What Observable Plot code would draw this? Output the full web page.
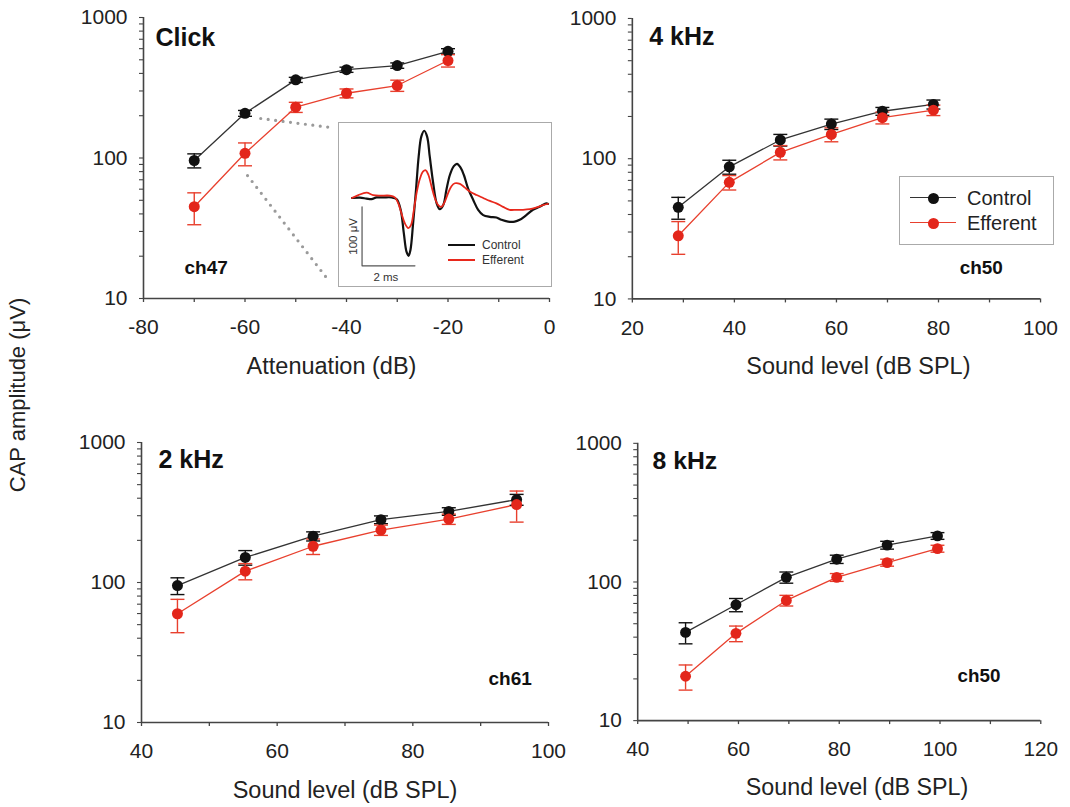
<!DOCTYPE html>
<html><head><meta charset="utf-8">
<script src="https://cdn.jsdelivr.net/npm/d3@7"></script>
<script src="https://cdn.jsdelivr.net/npm/@observablehq/plot@0.6"></script>
<style>
body{margin:0;background:#fff;font-family:"Liberation Sans",Arial,sans-serif;}
#fig{position:relative;width:1070px;height:807px;overflow:hidden;background:#fff;}
.abs{position:absolute;}
</style></head><body><div id="fig"></div>
<script>
// ---------- DATA ----------
// Click (attenuation, dB)
const clickAtten = [-70, -60, -50, -40, -30, -20];
const clickControl = [96, 208, 360, 425, 455, 575];
const clickControlErr = [11, 10, 15, 18, 20, 25];
const clickEfferent = [45, 108, 230, 289, 328, 494];
const clickEfferentErr = [11.5, 20, 19, 21, 30, 50];

// 4 kHz (dB SPL)
const level4k = [29, 39, 49, 59, 69, 79];
const control4k = [45, 87.5, 136, 176.5, 218, 244];
const control4kErr = [8, 10, 13, 15, 14, 18];
const efferent4k = [28.2, 67.8, 111, 149, 196, 222];
const efferent4kErr = [7.4, 8, 13, 17, 19, 19];

// 2 kHz (dB SPL)
const level2k = [45.3, 55.3, 65.3, 75.3, 85.3, 95.3];
const control2k = [95, 151, 214, 281, 322, 391];
const control2kErr = [13, 18, 16, 18, 20, 35];
const efferent2k = [59.8, 120.5, 181.5, 237, 284, 360];
const efferent2kErr = [16, 16, 23, 20, 24, 90];

// 8 kHz (dB SPL)
const level8k = [49.5, 59.5, 69.5, 79.5, 89.5, 99.5];
const control8k = [43.3, 68.5, 108, 146, 184.5, 215];
const control8kErr = [7.5, 7.5, 10, 10, 12, 12];
const efferent8k = [20.9, 42.6, 73.6, 108, 138, 174];
const efferent8kErr = [4.3, 5.5, 6.5, 7, 8, 10];

// Inset: CAP waveforms (time ms, amplitude µV)
const waveControlT = [0,0.30,0.55,0.74,0.93,1.18,1.50,1.69,1.84,1.96,2.06,2.14,2.21,2.31,2.42,2.52,2.62,2.73,2.84,2.94,3.07,3.20,3.32,3.45,3.57,3.70,3.85,3.97,4.10,4.23,4.39,4.58,4.77,4.96,5.21,5.46,5.65,5.90,6.15,6.34,6.59,6.84,7.09,7.35,7.41];
const waveControlV = [0,0.6,-1,-2,1,1,1,-2,-20,-60,-91,-98,-88,-43,14,70,104,114,104,70,25,-9,-19,-12,14,39,54,58,52,39,16,-3,-20,-29,-32,-33,-37,-40,-40,-37,-29,-20,-15,-9,-10];
const waveEfferentT = [0,0.24,0.55,0.80,1.06,1.43,1.62,1.75,1.87,2.00,2.13,2.23,2.34,2.44,2.57,2.69,2.79,2.89,3.01,3.13,3.26,3.38,3.51,3.63,3.76,3.89,4.08,4.26,4.45,4.71,4.96,5.21,5.46,5.71,5.96,6.21,6.46,6.72,6.97,7.22,7.41];
const waveEfferentV = [0,5,9,5,4,4,1,-9,-26,-43,-51,-46,-20,8,33,45,47,39,19,0,-12,-15,-6,8,20,25,24,18,11,5,0,-5,-9,-15,-20,-20,-20,-19,-16,-12,-10];
const scaleBarT0 = 0.38, scaleBarV0 = -115, scaleBarMs = 2, scaleBarUV = 100;

// Dotted zoom connectors (panel 1 data units)
const zoomFromX = [-56.9, -59.5], zoomFromY = [191, 75];
const zoomToX = [-43.2, -43.5], zoomToY = [165, 13.4];

const seriesNames = ["Control", "Efferent"];
const xLabels = ["Attenuation (dB)", "Sound level (dB SPL)", "Sound level (dB SPL)", "Sound level (dB SPL)"];
const titles = ["Click", "4 kHz", "2 kHz", "8 kHz"];
const channels = ["ch47", "ch50", "ch61", "ch50"];
const yLabel = "CAP amplitude (\u03BCV)";

// ---------- STYLE ----------
const FONT = '"Liberation Sans", Arial, sans-serif';
const AXIS = "#444";
const BLACK = "#111", BLACK_LINE = "#333";
const RED = "#e3261b", RED_LINE = "#e8402e";
const fig = document.getElementById("fig");

function place(el, left, top) {
  const w = document.createElement("div");
  w.className = "abs"; w.style.left = left + "px"; w.style.top = top + "px";
  w.appendChild(el); fig.appendChild(w); return w;
}

const capSymbol = { draw(ctx) { ctx.moveTo(-7, 0); ctx.lineTo(7, 0); } };

function panel(cfg) {
  const rows = (ys, es) => cfg.x.map((x, i) => ({ x, y: ys[i], lo: ys[i] - es[i], hi: ys[i] + es[i] }));
  const ctrl = rows(cfg.control, cfg.controlErr);
  const eff = rows(cfg.efferent, cfg.efferentErr);
  const ml = 83, mt = 17, mr = 30, mb = 90;
  const xd = cfg.xDomain;
  const minorX = d3.range(xd[0], xd[1] + 0.001, 10);
  const majorX = d3.range(xd[0], xd[1] + 0.001, 20);
  const minorY = [];
  for (const d of [10, 100]) for (let k = 1; k < 10; k++) minorY.push(d * k);
  minorY.push(1000);
  const errMarks = (data, col) => [
    Plot.ruleX(data, { x: "x", y1: "lo", y2: "hi", stroke: col, strokeWidth: 1.4 }),
    Plot.dot(data, { x: "x", y: "lo", symbol: capSymbol, stroke: col, fill: "none", strokeWidth: 1.4 }),
    Plot.dot(data, { x: "x", y: "hi", symbol: capSymbol, stroke: col, fill: "none", strokeWidth: 1.4 })
  ];
  const p = Plot.plot({
    width: cfg.w + ml + mr, height: cfg.h + mt + mb,
    marginLeft: ml, marginTop: mt, marginRight: mr, marginBottom: mb,
    style: { fontFamily: FONT, fontSize: "21px", background: "transparent", color: "#222", overflow: "visible" },
    x: { domain: xd, type: "linear" },
    y: { type: "log", domain: [10, 1000] },
    marks: [
      ...(cfg.extra || []),
      Plot.axisX({ ticks: minorX, tickSize: 4, tickFormat: () => "", label: null, stroke: AXIS, strokeWidth: 1.3 }),
      Plot.axisX({ ticks: majorX, tickSize: 0, tickPadding: 21, tickFormat: d => String(d), label: null, fill: "#222" }),
      Plot.axisY({ ticks: minorY, tickSize: 4, tickFormat: () => "", label: null, stroke: AXIS, strokeWidth: 1.1 }),
      Plot.axisY({ ticks: [10, 100, 1000], tickSize: 0, tickPadding: 16, tickFormat: d => String(d), label: null, fill: "#222" }),
      Plot.ruleX([xd[0]], { stroke: AXIS, strokeWidth: 1.6 }),
      Plot.ruleY([10], { stroke: AXIS, strokeWidth: 1.6 }),
      Plot.line(ctrl, { x: "x", y: "y", stroke: BLACK_LINE, strokeWidth: 1.3 }),
      Plot.line(eff, { x: "x", y: "y", stroke: RED_LINE, strokeWidth: 1.3 }),
      ...errMarks(ctrl, BLACK),
      ...errMarks(eff, RED_LINE),
      Plot.dot(ctrl, { x: "x", y: "y", fill: BLACK, r: 5.5 }),
      Plot.dot(eff, { x: "x", y: "y", fill: RED, r: 5.5 }),
      Plot.text([cfg.title], { frameAnchor: "top-left", textAnchor: "start", lineAnchor: "middle", dx: cfg.titleDx, dy: cfg.titleDy, fontWeight: "bold", fontSize: 25, fill: "#111" }),
      Plot.text([cfg.channel], { frameAnchor: "bottom-left", textAnchor: "start", lineAnchor: "middle", dx: cfg.chDx, dy: -cfg.chDy, fontWeight: "bold", fontSize: 19, fill: "#111" }),
      Plot.text([cfg.xLabel], { frameAnchor: "bottom", lineAnchor: "middle", dy: 68, dx: cfg.labelDx, fontSize: 23.5, fill: "#222" })
    ]
  });
  place(p, cfg.left - ml, cfg.top - mt);
}

const zoomLinks = zoomFromX.map((x, i) => ({ x1: x, y1: zoomFromY[i], x2: zoomToX[i], y2: zoomToY[i] }));

panel({ x: clickAtten, control: clickControl, controlErr: clickControlErr, efferent: clickEfferent, efferentErr: clickEfferentErr,
  xDomain: [-80, 0], left: 143, top: 17, w: 406, h: 281, title: titles[0], channel: channels[0], xLabel: xLabels[0],
  titleDx: 12, titleDy: 20, chDx: 41, chDy: 31, labelDx: -15,
  extra: [Plot.link(zoomLinks, { x1: "x1", y1: "y1", x2: "x2", y2: "y2", stroke: "#9a9a9a", strokeWidth: 3.2, strokeDasharray: "0 7.5", strokeLinecap: "round" })] });
panel({ x: level4k, control: control4k, controlErr: control4kErr, efferent: efferent4k, efferentErr: efferent4kErr,
  xDomain: [20, 100], left: 632, top: 18, w: 409, h: 281, title: titles[1], channel: channels[1], xLabel: xLabels[1],
  titleDx: 17, titleDy: 19, chDx: 328, chDy: 31, labelDx: 22 });
panel({ x: level2k, control: control2k, controlErr: control2kErr, efferent: efferent2k, efferentErr: efferent2kErr,
  xDomain: [40, 100], left: 141, top: 442, w: 407, h: 280, title: titles[2], channel: channels[2], xLabel: xLabels[2],
  titleDx: 17, titleDy: 17, chDx: 347, chDy: 44, labelDx: 0 });
panel({ x: level8k, control: control8k, controlErr: control8kErr, efferent: efferent8k, efferentErr: efferent8kErr,
  xDomain: [40, 120], left: 638, top: 443, w: 407, h: 280, title: titles[3], channel: channels[3], xLabel: xLabels[3],
  titleDx: 15, titleDy: 18, chDx: 323, chDy: 45, labelDx: 18 });

// ---------- INSET ----------
(function () {
  const box = document.createElement("div");
  box.style.cssText = "position:absolute;left:338px;top:122px;width:214px;height:165px;box-sizing:border-box;border:1.5px solid #aaa;background:#fff;";
  fig.appendChild(box);
  const wc = waveControlT.map((t, i) => ({ t, v: waveControlV[i] }));
  const we = waveEfferentT.map((t, i) => ({ t, v: waveEfferentV[i] }));
  const bar = [
    { t: scaleBarT0, v: scaleBarV0 + scaleBarUV },
    { t: scaleBarT0, v: scaleBarV0 },
    { t: scaleBarT0 + scaleBarMs, v: scaleBarV0 }
  ];
  const p = Plot.plot({
    width: 211, height: 162, marginLeft: 12.5, marginRight: 2.5, marginTop: 0, marginBottom: 0,
    style: { fontFamily: FONT, fontSize: "11px", background: "transparent", overflow: "visible" },
    x: { domain: [0, 7.41], axis: null },
    y: { domain: [-148.3, 126.3], axis: null },
    marks: [
      Plot.line(bar, { x: "t", y: "v", stroke: "#555", strokeWidth: 1.2 }),
      Plot.text(["100 \u03BCV"], { x: scaleBarT0, y: scaleBarV0 + scaleBarUV / 2, dx: -9, rotate: -90, fill: "#333", fontSize: 11.5 }),
      Plot.text(["2 ms"], { x: scaleBarT0 + scaleBarMs / 2 - 0.1, y: scaleBarV0, dy: 11, fill: "#333", fontSize: 11.5 }),
      Plot.line(wc, { x: "t", y: "v", stroke: BLACK, strokeWidth: 2.2, curve: "catmull-rom" }),
      Plot.line(we, { x: "t", y: "v", stroke: "#e8281c", strokeWidth: 1.8, curve: "catmull-rom" })
    ]
  });
  p.style.position = "absolute"; p.style.left = "0px"; p.style.top = "0px";
  box.appendChild(p);
  // inset legend
  const cols = [BLACK, "#e8281c"];
  seriesNames.forEach((name, i) => {
    const y = 245 + i * 15;
    const ln = document.createElement("div");
    ln.style.cssText = `position:absolute;left:448px;top:${y - 1}px;width:27px;height:0;border-top:2px solid ${cols[i]};`;
    fig.appendChild(ln);
    const tx = document.createElement("div");
    tx.style.cssText = `position:absolute;left:482px;top:${y - 7}px;font-size:12px;line-height:14px;color:#333;font-family:${FONT};`;
    tx.textContent = name;
    fig.appendChild(tx);
  });
})();

// ---------- LEGEND (panel 2) ----------
(function () {
  const box = document.createElement("div");
  box.style.cssText = "position:absolute;left:899px;top:176px;width:155px;height:69px;box-sizing:border-box;border:1.5px solid #aaa;background:#fff;";
  fig.appendChild(box);
  const lineCols = [BLACK_LINE, RED_LINE], dotCols = [BLACK, RED];
  seriesNames.forEach((name, i) => {
    const y = 198 + i * 25;
    const ln = document.createElement("div");
    ln.style.cssText = `position:absolute;left:910px;top:${y - 0.7}px;width:46px;height:0;border-top:1.4px solid ${lineCols[i]};`;
    fig.appendChild(ln);
    const dt = document.createElement("div");
    dt.style.cssText = `position:absolute;left:${933 - 5.5}px;top:${y - 5.5}px;width:11px;height:11px;border-radius:50%;background:${dotCols[i]};`;
    fig.appendChild(dt);
    const tx = document.createElement("div");
    tx.style.cssText = `position:absolute;left:967px;top:${y - 12}px;font-size:20px;line-height:24px;color:#222;font-family:${FONT};`;
    tx.textContent = name;
    fig.appendChild(tx);
  });
})();

// ---------- shared y label ----------
(function () {
  const d = document.createElement("div");
  d.textContent = yLabel;
  d.style.cssText = `position:absolute;left:18px;top:395px;transform:translate(-50%,-50%) rotate(-90deg);white-space:nowrap;font-size:22px;color:#222;font-family:${FONT};`;
  fig.appendChild(d);
})();
</script></body></html>
